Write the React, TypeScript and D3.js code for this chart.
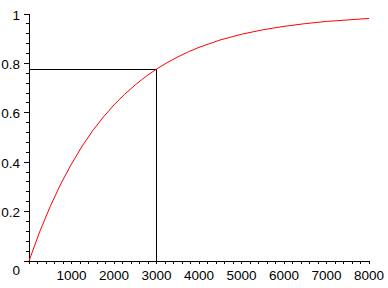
import React from "react";
import * as d3 from "d3";

const xs = [0, 250, 500, 750, 1000, 1250, 1500, 1750, 2000, 2250, 2500, 2750, 3000, 3250, 3500, 3750, 4000, 4500, 5000, 5500, 6000, 6500, 7000, 7500, 8000];
const ys = [0, 0.118, 0.221, 0.313, 0.393, 0.465, 0.528, 0.583, 0.632, 0.675, 0.713, 0.747, 0.777, 0.803, 0.826, 0.847, 0.865, 0.895, 0.918, 0.936, 0.95, 0.961, 0.97, 0.976, 0.982];
const xTicks = [1000, 2000, 3000, 4000, 5000, 6000, 7000, 8000];
const yTicks = [0.2, 0.4, 0.6, 0.8, 1];
const markX = 3000;
const markY = 0.777;

export default function App() {
  const W = 388, H = 288;
  const x = d3.scaleLinear().domain([0, 8000]).range([29, 369]);
  const y = d3.scaleLinear().domain([0, 1]).range([261, 14]);
  const line = d3.line<number>().x((_, i) => x(xs[i])).y((d) => y(d));
  const xMinor = d3.range(0, 8001, 200);
  const yMinor = d3.range(0, 1.0001, 0.04);
  const font = "'Liberation Sans', Arial, sans-serif";
  return (
    <svg width={W} height={H} style={{ position: "absolute", left: 0, top: 0, background: "#fff" }}>
      <g shapeRendering="crispEdges" stroke="#000" strokeWidth={1}>
        <line x1={x(0)} x2={x(8000)} y1={y(0)} y2={y(0)} />
        <line x1={x(0)} x2={x(0)} y1={y(0)} y2={y(1)} />
        {xMinor.map((v) => (
          <line key={"xm" + v} x1={x(v)} x2={x(v)} y1={y(0)} y2={y(0) + 3} />
        ))}
        {yMinor.map((v) => (
          <line key={"ym" + v} x1={x(0) - (Math.abs((v / 0.2) - Math.round(v / 0.2)) < 1e-6 ? 5 : 3)} x2={x(0)} y1={y(v)} y2={y(v)} />
        ))}
        <line x1={x(0)} x2={x(markX)} y1={y(markY)} y2={y(markY)} />
        <line x1={x(markX)} x2={x(markX)} y1={y(markY)} y2={y(0)} />
      </g>
      <path d={line(ys) || ""} fill="none" stroke="#ff0000" strokeWidth={1} />
      <g fontFamily={font} fontSize={13.5} fill="#000">
        {xTicks.map((v) => (
          <text key={"xt" + v} x={x(v)} y={280} textAnchor="middle">{v}</text>
        ))}
        {yTicks.map((v) => (
          <text key={"yt" + v} x={20} y={y(v) + 5.5} textAnchor="end">{v}</text>
        ))}
        <text x={20} y={275} textAnchor="end">0</text>
      </g>
    </svg>
  );
}
